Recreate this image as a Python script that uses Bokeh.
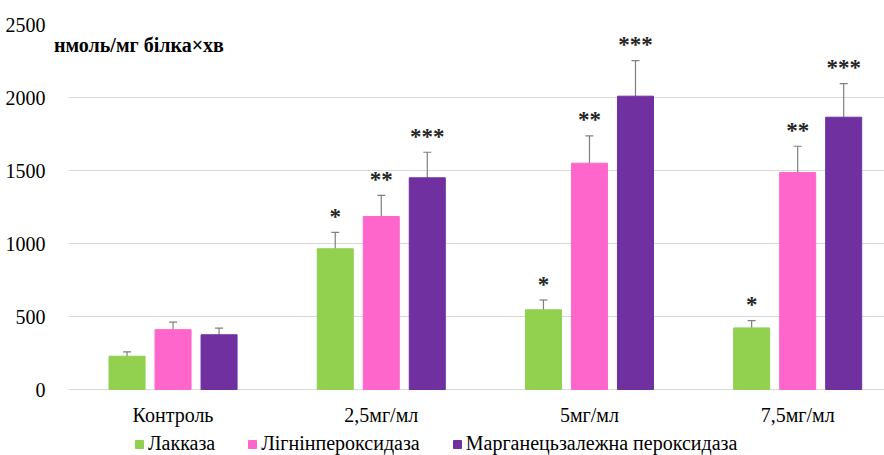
import numpy as np
from bokeh.plotting import figure
from bokeh.models import (ColumnDataSource, Whisker, TeeHead, Legend, LegendItem,
                          Label, FixedTicker, Range1d, BoxAnnotation)
from bokeh.core.properties import value
from bokeh.embed import file_html
from bokeh.resources import INLINE

categories = ["Контроль", "2,5мг/мл", "5мг/мл", "7,5мг/мл"]
series_names = ["Лакказа", "Лігнінпероксидаза", "Марганецьзалежна пероксидаза"]
laccase = [228, 964, 546, 422]
laccase_err = [30, 112, 67, 50]
lignin = [410, 1185, 1550, 1486]
lignin_err = [52, 144, 187, 180]
manganese = [375, 1450, 2009, 1865]
manganese_err = [46, 175, 243, 230]
laccase_sig = ["", "*", "*", "*"]
lignin_sig = ["", "**", "**", "**"]
manganese_sig = ["", "***", "***", "***"]
y_ticks = [0, 500, 1000, 1500, 2000, 2500]
y_label = "нмоль/мг білка×хв"
colors = ["#92d050", "#ff66cc", "#7030a0"]

FONT = "Liberation Serif"
FS = "20px"
offsets = [-0.221, 0.0, 0.221]
bar_w = 0.173

# frame spans down to the bottom of the figure so the legend (drawn inside the
# frame) is not clipped; the value axis runs 0..2500 with room below for labels
p = figure(width=884, height=455, output_backend="svg", toolbar_location=None,
           x_range=Range1d(-0.579, 3.417), y_range=Range1d(-452, 2500),
           min_border_left=52, min_border_right=0, min_border_top=24,
           min_border_bottom=0)
p.outline_line_color = None
p.background_fill_color = "white"
p.border_fill_color = "white"

p.xgrid.grid_line_color = None
p.ygrid.ticker = FixedTicker(ticks=y_ticks)
p.ygrid.grid_line_color = "#d9d9d9"
p.ygrid.grid_line_width = 1

p.yaxis.ticker = FixedTicker(ticks=y_ticks)
p.yaxis.axis_line_color = None
p.yaxis.major_tick_line_color = None
p.yaxis.minor_tick_line_color = None
p.yaxis.major_label_text_font = FONT
p.yaxis.major_label_text_font_size = FS
p.yaxis.major_label_text_color = "#000000"
p.yaxis.major_label_standoff = 1

p.xaxis.visible = False

# white strip left of the first category so grid lines start at the plot edge
p.add_layout(BoxAnnotation(right=-0.5, fill_color="white", fill_alpha=1.0,
                           line_alpha=0, level="overlay"))

idx = np.arange(len(categories))
cat_src = ColumnDataSource(dict(x=idx, y=np.zeros(len(categories)), text=categories))
p.text(x="x", y="y", text="text", source=cat_src, text_align="center",
       text_baseline="middle", y_offset=25, text_font=value(FONT),
       text_font_size=FS, text_color="#000000")

items = []
for vals, errs, sig, off, col, name in zip(
        [laccase, lignin, manganese],
        [laccase_err, lignin_err, manganese_err],
        [laccase_sig, lignin_sig, manganese_sig],
        offsets, colors, series_names):
    v = np.array(vals, dtype=float)
    e = np.array(errs, dtype=float)
    src = ColumnDataSource(dict(x=idx + off, top=v, upper=v + e, lower=v - e, sig=sig))
    r = p.vbar(x="x", top="top", width=bar_w, source=src, fill_color=col,
               line_color=col, line_width=1)
    items.append(LegendItem(label=name, renderers=[r]))
    w = Whisker(source=src, base="x", upper="upper", lower="lower",
                line_color="#7f7f7f", line_width=1.2,
                upper_head=TeeHead(size=8, line_color="#7f7f7f", line_width=1.2),
                lower_head=TeeHead(size=8, line_color="#7f7f7f", line_width=1.2))
    p.add_layout(w)
    p.text(x="x", y="upper", text="sig", source=src, text_align="center",
           text_baseline="middle", y_offset=-16, text_font=value(FONT),
           text_font_size="23px", text_font_style="bold", text_color="#262626")

legend = Legend(items=items, orientation="horizontal", location=(82, 0),
                glyph_width=10, glyph_height=10, label_standoff=4, spacing=32,
                padding=0, margin=0, border_line_color=None,
                background_fill_alpha=0, label_text_font=FONT,
                label_text_font_size=FS, label_text_color="#000000",
                label_height=20)
p.add_layout(legend)

p.add_layout(Label(x=-0.572, y=2363, text=y_label, text_font=FONT,
                   text_font_size="20px", text_font_style="bold",
                   text_baseline="middle", text_color="#000000",
                   level="overlay"))

open("out.html", "w").write(file_html(p, INLINE))
